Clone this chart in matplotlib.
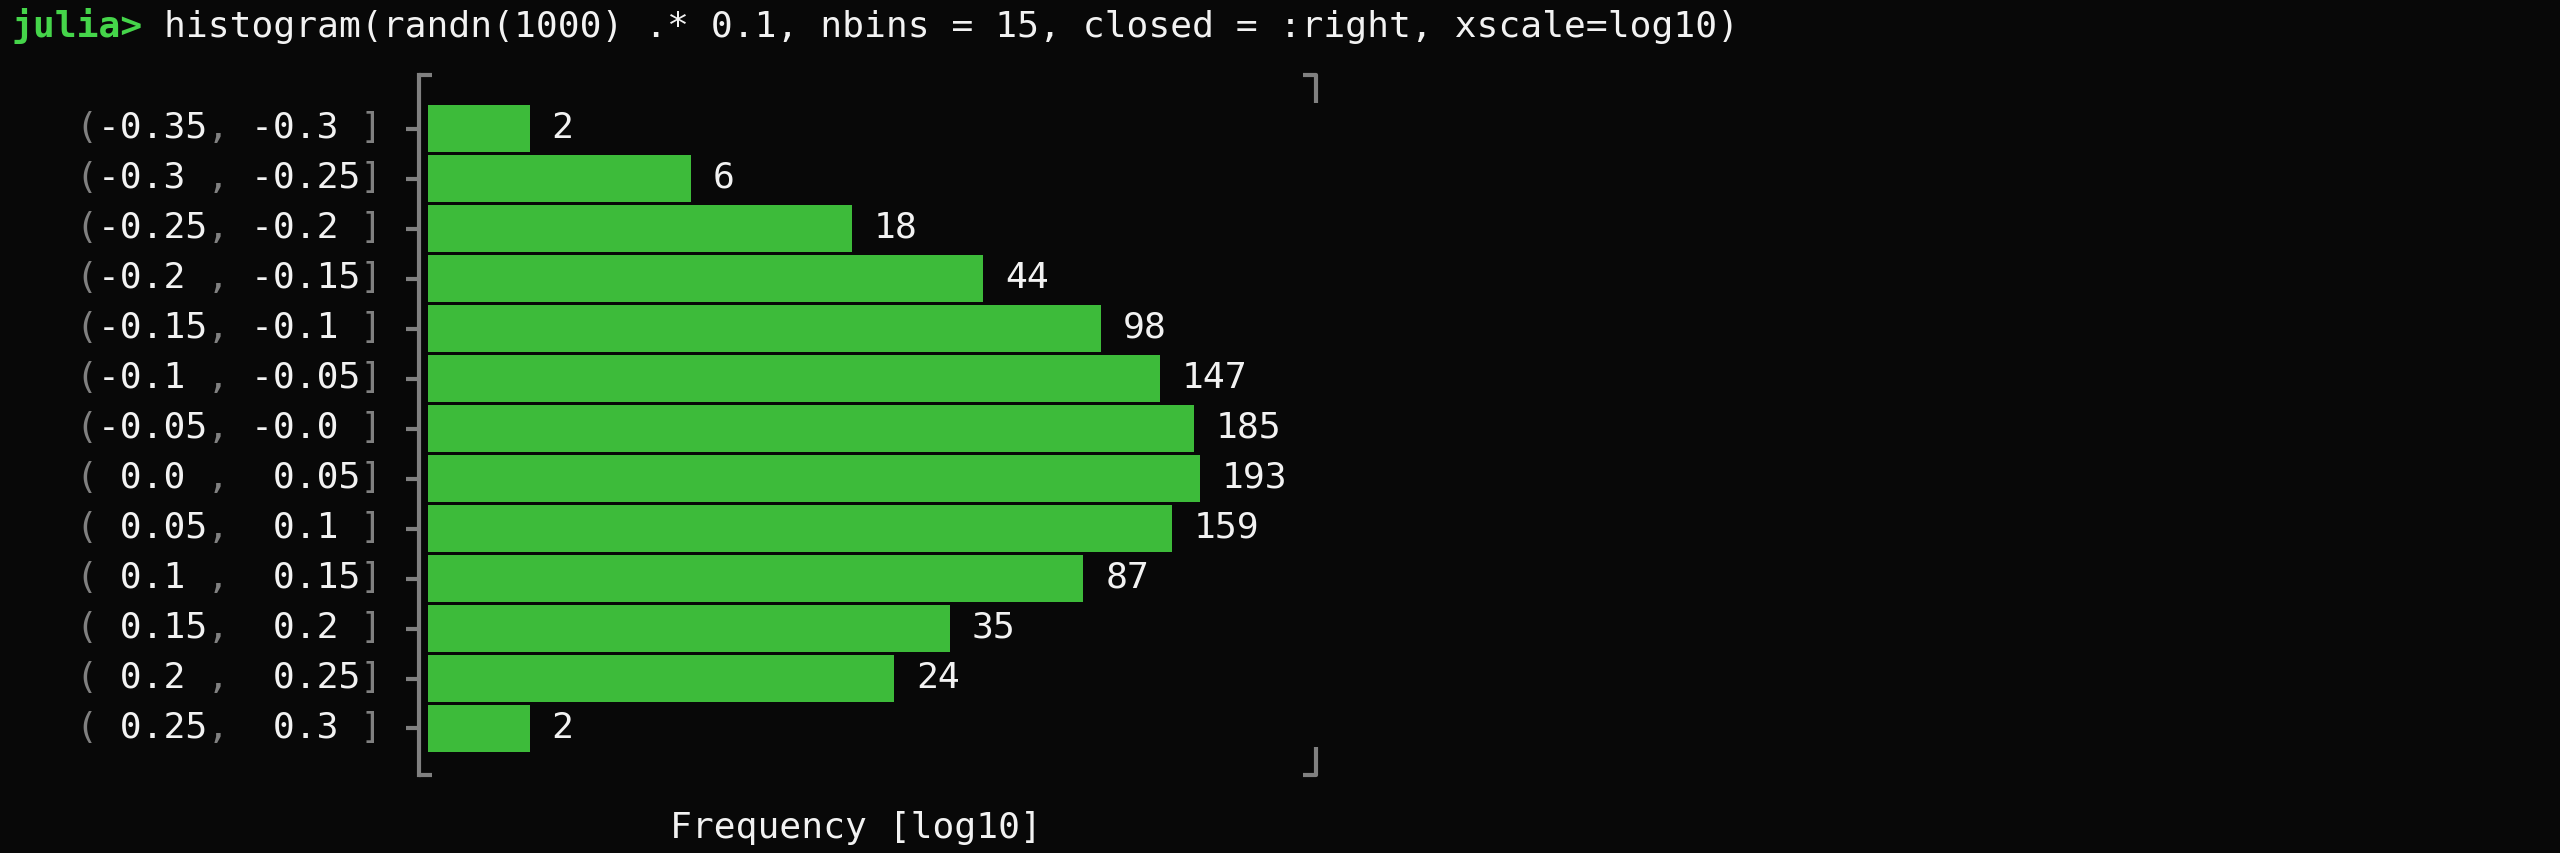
import numpy as np
import matplotlib
matplotlib.use('Agg')
import matplotlib.pyplot as plt
import matplotlib.transforms as mtransforms
from matplotlib.ticker import NullLocator

# histogram data (closed = :right, log10 x scale)
bin_lo = ['-0.35', '-0.3 ', '-0.25', '-0.2 ', '-0.15', '-0.1 ', '-0.05',
          ' 0.0 ', ' 0.05', ' 0.1 ', ' 0.15', ' 0.2 ', ' 0.25']
bin_hi = ['-0.3 ', '-0.25', '-0.2 ', '-0.15', '-0.1 ', '-0.05', '-0.0 ',
          ' 0.05', ' 0.1 ', ' 0.15', ' 0.2 ', ' 0.25', ' 0.3 ']
counts = [2, 6, 18, 44, 98, 147, 185, 193, 159, 87, 35, 24, 2]

prompt = 'julia>'
command = 'histogram(randn(1000) .* 0.1, nbins = 15, closed = :right, xscale=log10)'
xlabel = 'Frequency [log10]'

BG = '#080808'
BAR = '#3dbb3a'
PROMPT = '#45d54a'
GRAY = '#808080'
WHITE = '#f2f2f2'
MONO = 'DejaVu Sans Mono'
FS = 26.2
CELL = 0.60205 * FS * 100 / 72  # monospace advance in pixels

W, H = 2560, 854
plt.rcParams['font.family'] = MONO

fig = plt.figure(figsize=(W / 100, H / 100), dpi=100, facecolor=BG)

# plot box in pixels
x_left, x_right = 419, 1316
y_top, y_bot = 76, 776
ax = fig.add_axes([x_left / W, 1 - y_bot / H, (x_right - x_left) / W, (y_bot - y_top) / H])
ax.set_facecolor(BG)

n = len(counts)
ypos = np.arange(n)
px_dec = 337.8  # pixels per decade
bar_start = 428
ax.set_xscale('log')
ax.set_xlim(10 ** (-(bar_start - x_left) / px_dec), 10 ** ((x_right - bar_start) / px_dec))
ax.set_ylim(12.93, -1.07)

ax.barh(ypos, np.array(counts) - 1, left=1, height=0.94, color=BAR)

# border like UnicodePlots
for s in ['top', 'right', 'bottom']:
    ax.spines[s].set_visible(False)
ax.spines['left'].set_color(GRAY)
ax.spines['left'].set_linewidth(3.0)
ax.xaxis.set_major_locator(NullLocator())
ax.xaxis.set_minor_locator(NullLocator())
ax.set_yticks(ypos)
ax.tick_params(axis='y', length=9.4, width=3.0, color=GRAY, labelleft=False, direction='out')

bw = x_right - x_left
bh = y_bot - y_top
hs = 13 / bw
vs = 28 / bh
lkw = dict(transform=ax.transAxes, clip_on=False, color=GRAY, lw=3.0, solid_capstyle='butt')
ax.plot([0, hs], [1, 1], **lkw)
ax.plot([0, hs], [0, 0], **lkw)
ax.plot([1 - hs, 1, 1], [1, 1, 1 - vs], **lkw)
ax.plot([1 - hs, 1, 1], [0, 0, vs], **lkw)

# value labels right of bars
val_tr = mtransforms.offset_copy(ax.transData, fig=fig, x=22, y=-8.5, units='dots')
for i, c in enumerate(counts):
    ax.text(c, i, str(c), transform=val_tr, color=WHITE, fontsize=FS,
            ha='left', va='baseline', family=MONO)

# bin labels: numbers white, brackets/comma gray
lab_tr = mtransforms.offset_copy(
    mtransforms.blended_transform_factory(fig.transFigure, ax.transData),
    fig=fig, x=0, y=-8.5, units='dots')
for i in range(n):
    white = ' ' + bin_lo[i] + '  ' + bin_hi[i] + ' '
    gray = '(' + ' ' * len(bin_lo[i]) + ', ' + ' ' * len(bin_hi[i]) + ']'
    ax.text(76 / W, i, white, transform=lab_tr, color=WHITE, fontsize=FS,
            ha='left', va='baseline', family=MONO)
    ax.text(76 / W, i, gray, transform=lab_tr, color=GRAY, fontsize=FS,
            ha='left', va='baseline', family=MONO)

# prompt line
x0 = 11
fig.text(x0 / W, 1 - 37 / H, prompt, color=PROMPT, fontsize=FS, fontweight='bold',
         ha='left', va='baseline', family=MONO)
fig.text((x0 + CELL * (len(prompt) + 1)) / W, 1 - 37 / H, command, color=WHITE,
         fontsize=FS, ha='left', va='baseline', family=MONO)

fig.text(856 / W, 1 - 838 / H, xlabel, color=WHITE, fontsize=FS,
         ha='center', va='baseline', family=MONO)

fig.savefig('out.png', dpi=100, facecolor=BG)
